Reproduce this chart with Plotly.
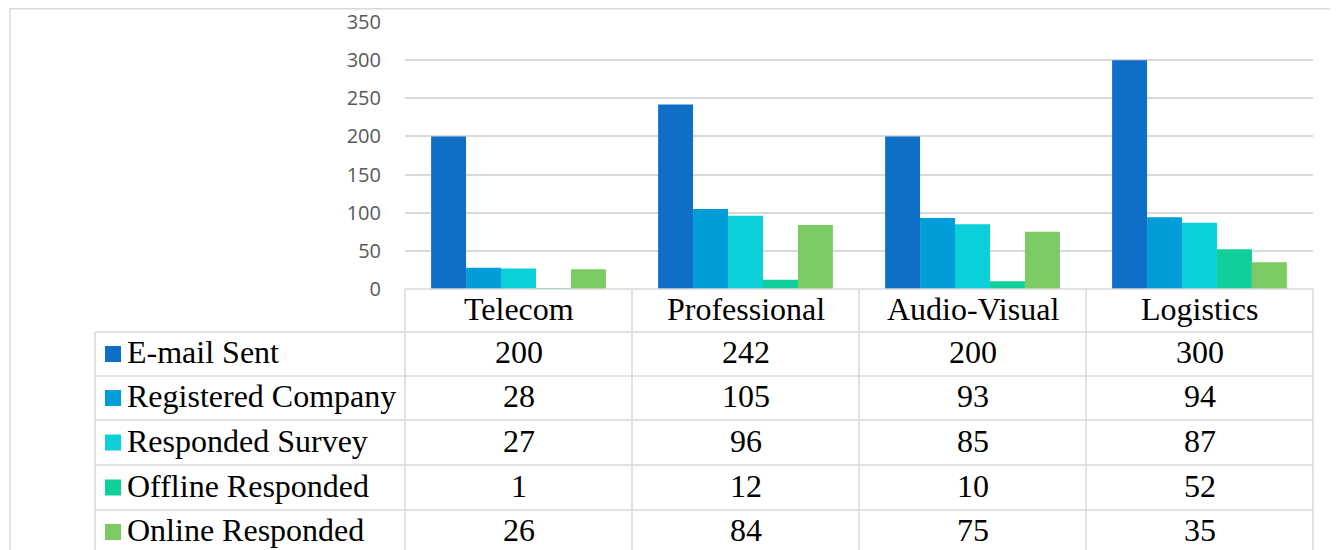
import plotly.graph_objects as go

categories = ["Telecom", "Professional", "Audio-Visual", "Logistics"]
series_names = ["E-mail Sent", "Registered Company", "Responded Survey",
                "Offline Responded", "Online Responded"]
email_sent = [200, 242, 200, 300]
registered_company = [28, 105, 93, 94]
responded_survey = [27, 96, 85, 87]
offline_responded = [1, 12, 10, 52]
online_responded = [26, 84, 75, 35]
series_values = [email_sent, registered_company, responded_survey,
                 offline_responded, online_responded]
colors = ["#0F6FC6", "#009DD9", "#0BD0D9", "#10CF9B", "#7CCA62"]
y_ticks = [0, 50, 100, 150, 200, 250, 300, 350]

# page offset (browser body margin)
OFF = 8
W, H = 1338 - OFF, 550 - OFF
L, R, T, B = 405, 1313, 22, 289  # plot area in page pixels


def px(x):
    return (x - L) / (R - L)


def py(y):
    return (B - y) / (B - T)


fig = go.Figure()
for name, vals, col in zip(series_names, series_values, colors):
    fig.add_trace(go.Bar(x=categories, y=vals, name=name,
                         marker=dict(color=col, line=dict(width=0))))

grid = "#d9d9d9"
shapes = []
# outer chart border
shapes.append(dict(type="rect", xref="paper", yref="paper",
                   x0=px(10), x1=px(1360), y0=py(8.7), y1=py(580),
                   line=dict(color=grid, width=1.5)))
# table horizontal lines
row_lines = [332, 376, 420, 465, 510]
shapes.append(dict(type="line", xref="paper", yref="paper",
                   x0=px(405), x1=px(1313), y0=py(289), y1=py(289),
                   line=dict(color=grid, width=1.5)))
for yl in row_lines:
    shapes.append(dict(type="line", xref="paper", yref="paper",
                       x0=px(95), x1=px(1313), y0=py(yl), y1=py(yl),
                       line=dict(color=grid, width=1.5)))
# table vertical lines
for xl in [405, 632, 859, 1086, 1313]:
    shapes.append(dict(type="line", xref="paper", yref="paper",
                       x0=px(xl), x1=px(xl), y0=py(289), y1=py(570),
                       line=dict(color=grid, width=1.5)))
shapes.append(dict(type="line", xref="paper", yref="paper",
                   x0=px(95), x1=px(95), y0=py(332), y1=py(570),
                   line=dict(color=grid, width=1.5)))

annotations = []
serif = "Liberation Serif, Times New Roman, serif"
fs = 32
header_y = 308.5
row_centers = [352, 396, 440.5, 485.5, 530]
square_centers = [354, 398, 442.5, 487.5, 532]
for c in categories:
    annotations.append(dict(x=c, xref="x", y=py(header_y), yref="paper",
                            text=c, showarrow=False,
                            font=dict(family=serif, size=fs, color="black"),
                            xanchor="center", yanchor="middle"))
for i, (name, vals, col) in enumerate(zip(series_names, series_values, colors)):
    yc = row_centers[i]
    ys = square_centers[i]
    shapes.append(dict(type="rect", xref="paper", yref="paper",
                       x0=px(105), x1=px(121), y0=py(ys - 8), y1=py(ys + 8),
                       fillcolor=col, line=dict(width=0)))
    annotations.append(dict(x=px(125), xref="paper", y=py(yc), yref="paper",
                            text=name, showarrow=False,
                            font=dict(family=serif, size=fs, color="black"),
                            xanchor="left", yanchor="middle"))
    for c, v in zip(categories, vals):
        annotations.append(dict(x=c, xref="x", y=py(yc), yref="paper",
                                text=str(v), showarrow=False,
                                font=dict(family=serif, size=fs, color="black"),
                                xanchor="center", yanchor="middle"))

fig.update_layout(
    width=W, height=H,
    margin=dict(l=L - OFF, r=W - (R - OFF), t=T - OFF, b=H - (B - OFF),
                autoexpand=False),
    paper_bgcolor="white", plot_bgcolor="white",
    barmode="group", bargap=0.23, bargroupgap=0,
    showlegend=False,
    shapes=shapes, annotations=annotations,
    xaxis=dict(showticklabels=False, showgrid=False, showline=False,
               zeroline=False, ticks="", automargin=False),
    yaxis=dict(range=[0, 350], tickvals=y_ticks, showgrid=True,
               gridcolor=grid, gridwidth=1.5, zeroline=False, showline=False,
               ticks="", ticklabelstandoff=23, automargin=False,
               tickfont=dict(family="Open Sans, sans-serif", size=20,
                             color="#595959")),
)

fig.write_html("out.html")
